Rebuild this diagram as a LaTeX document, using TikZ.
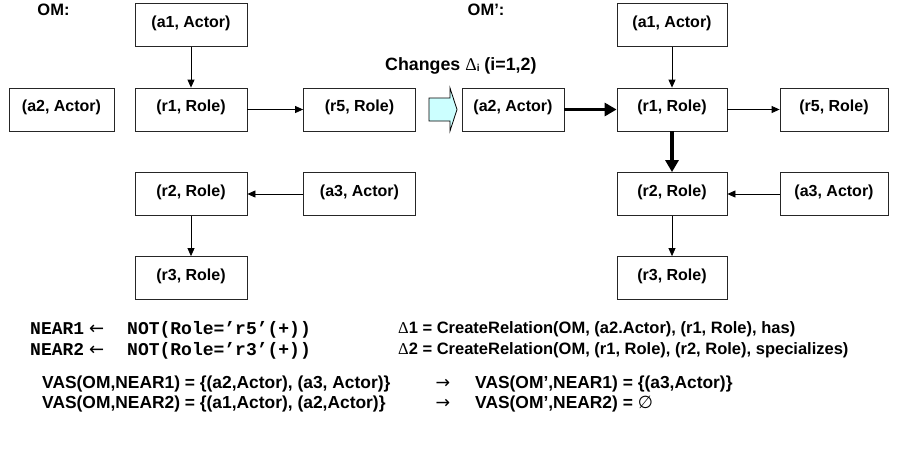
\documentclass[tikz,border=0pt]{standalone}
\usepackage{fontspec}
\setmainfont{Liberation Sans}
\newfontfamily\monof{Liberation Mono}
\newfontfamily\symf{DejaVu Sans}
\newfontfamily\serf{Liberation Serif}
\usetikzlibrary{arrows.meta}
\definecolor{lightcyan}{HTML}{CCFFFF}
\begin{document}
\begin{tikzpicture}[x=1pt,y=-1pt,
  box/.style={draw=black!85, line width=0.8pt, minimum width=112pt, minimum height=43pt,
    inner sep=0pt, text height=11pt, text depth=7pt, font=\bfseries\fontsize{16}{18}\selectfont},
  thin/.style={line width=0.8pt, -{Triangle[length=8pt,width=7pt]}},
  thick/.style={line width=3.5pt, -{Triangle[length=12pt,width=13pt]}},
  lbl/.style={inner sep=0pt, font=\bfseries\fontsize{16.5}{18}\selectfont},
  vas/.style={inner sep=0pt, font=\bfseries\fontsize{17.4}{19}\selectfont},
  mono/.style={inner sep=0pt, anchor=base west, font=\monof\bfseries\fontsize{18}{20}\selectfont}]
\useasboundingbox (0,0) rectangle (901,456);
% left graph
\node[box] (a1) at (191,25) {(a1, Actor)};
\node[box, minimum width=105pt] (a2) at (61.5,109.5) {(a2, Actor)};
\node[box] (r1) at (191,109.5) {(r1, Role)};
\node[box] (r5) at (359.5,109.5) {(r5, Role)};
\node[box] (r2) at (191,194) {(r2, Role)};
\node[box] (a3) at (359.5,194) {(a3, Actor)};
\node[box] (r3) at (191,278) {(r3, Role)};
\draw[thin] (a1) -- (r1);
\draw[thin] (r1) -- (r5);
\draw[thin] (a3) -- (r2);
\draw[thin] (r2) -- (r3);
% right graph
\node[box, minimum width=110pt] (b1) at (672,25) {(a1, Actor)};
\node[box, minimum width=102pt] (b2) at (513,109.5) {(a2, Actor)};
\node[box, minimum width=110pt] (s1) at (672,109.5) {(r1, Role)};
\node[box, minimum width=108pt] (s5) at (834,109.5) {(r5, Role)};
\node[box, minimum width=110pt] (s2) at (672,194) {(r2, Role)};
\node[box, minimum width=108pt] (b3) at (834,194) {(a3, Actor)};
\node[box, minimum width=110pt] (s3) at (672,278) {(r3, Role)};
\draw[thin] (b1) -- (s1);
\draw[thin] (s1) -- (s5);
\draw[thin] (b3) -- (s2);
\draw[thin] (s2) -- (s3);
\draw[thick] (b2) -- (s1);
\draw[thick] (s1) -- (s2);
% block arrow
\draw[fill=lightcyan, line width=0.8pt] (429,98) -- (450,98) -- (450,88) -- (457,109.5) -- (450,131) -- (450,121) -- (429,121) -- cycle;
% titles
\node[lbl] (om) at (53.5,10) {OM:};
\node[lbl] (omp) at (486,10) {OM’:};
\node[lbl, anchor=west, font=\bfseries\fontsize{17.8}{19}\selectfont] (chg) at (385,66) {Changes {\serf\mdseries Δ}\raisebox{-1pt}{\fontsize{10}{10}\selectfont i} (i=1,2)};
% formulas
\node[mono] (n1) at (30,334) {NEAR1};
\node[mono] (n1a) at (89,334) {{\symf\mdseries ←}};
\node[mono] (n1b) at (127,334) {NOT(Role=’r5’(+))};
\node[mono] (n2) at (30,355) {NEAR2};
\node[mono] (n2a) at (89,355) {{\symf\mdseries ←}};
\node[mono] (n2b) at (127,355) {NOT(Role=’r3’(+))};
\node[lbl, anchor=west] (d1) at (398,329) {{\serf\mdseries Δ}1 = CreateRelation(OM, (a2.Actor), (r1, Role), has)};
\node[lbl, anchor=west] (d2) at (398,350) {{\serf\mdseries Δ}2 = CreateRelation(OM, (r1, Role), (r2, Role), specializes)};
\node[vas, anchor=west] (v1) at (42,384) {VAS(OM,NEAR1) = \{(a2,Actor), (a3, Actor)\}};
\node[vas, anchor=west] (v2) at (42,404) {VAS(OM,NEAR2) = \{(a1,Actor), (a2,Actor)\}};
\node[vas] (ar1) at (443,384) {{\symf\mdseries →}};
\node[vas] (ar2) at (443,404) {{\symf\mdseries →}};
\node[vas, anchor=west] (w1) at (475,384) {VAS(OM’,NEAR1) = \{(a3,Actor)\}};
\node[vas, anchor=west] (w2) at (475,404) {VAS(OM’,NEAR2) = {\symf\mdseries ∅}};
\end{tikzpicture}
\end{document}
